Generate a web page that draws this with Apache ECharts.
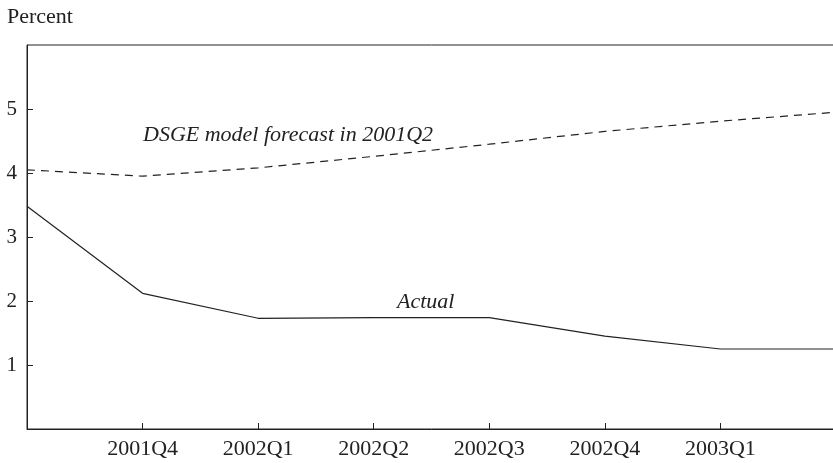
<!DOCTYPE html>
<html>
<head>
<meta charset="utf-8">
<script src="https://cdn.jsdelivr.net/npm/echarts@6/dist/echarts.min.js"></script>
<style>html,body{margin:0;padding:0;background:#fff;overflow:hidden;width:833px;height:463px;}#c{width:840px;height:463px;}</style>
</head>
<body>
<div id="c"></div>
<script>
var categories = ['2001Q3','2001Q4','2002Q1','2002Q2','2002Q3','2002Q4','2003Q1','2003Q2'];
var actual = [3.48, 2.12, 1.73, 1.74, 1.74, 1.45, 1.25, 1.25];
var dsge = [4.05, 3.95, 4.08, 4.26, 4.45, 4.65, 4.81, 4.95];
var yTicks = [1, 2, 3, 4, 5];

var serif = '"Liberation Serif", "DejaVu Serif", serif';
var chart = echarts.init(document.getElementById('c'), null, {renderer: 'canvas'});
chart.setOption({
  animation: false,
  backgroundColor: '#fff',
  grid: {left: 27, top: 45, bottom: 34, right: 4, show: true, borderColor: '#222', borderWidth: 1},
  xAxis: {
    type: 'category', data: categories, boundaryGap: false,
    axisLine: {lineStyle: {color: '#222', width: 1}},
    axisTick: {inside: true, length: 6, lineStyle: {color: '#222'}},
    axisLabel: {color: '#222', fontFamily: serif, fontSize: 22, margin: 9,
      formatter: function (v, i) { return (i === 0 || i === categories.length - 1) ? '' : v; }},
    splitLine: {show: false}
  },
  yAxis: {
    type: 'value', min: 0, max: 6, interval: 1,
    axisLine: {show: true, lineStyle: {color: '#222', width: 1}},
    axisTick: {show: true, inside: true, length: 6, lineStyle: {color: '#222'},
      customValues: yTicks},
    axisLabel: {color: '#222', fontFamily: serif, fontSize: 21, margin: 10,
      customValues: yTicks},
    splitLine: {show: false}
  },
  series: [
    {name: 'DSGE', type: 'line', data: dsge, symbol: 'none',
      lineStyle: {color: '#222', width: 1.2, type: [8, 6]}},
    {name: 'Actual', type: 'line', data: actual, symbol: 'none',
      lineStyle: {color: '#222', width: 1.2}}
  ],
  graphic: [
    {type: 'text', x: 7, y: 6, style: {text: 'Percent', font: '22px ' + serif, fill: '#222'}},
    {type: 'text', x: 143, y: 124, style: {text: 'DSGE model forecast in 2001Q2', font: 'italic 22px ' + serif, fill: '#222'}},
    {type: 'text', x: 397, y: 291, style: {text: 'Actual', font: 'italic 22px ' + serif, fill: '#222'}}
  ]
});
</script>
</body>
</html>
